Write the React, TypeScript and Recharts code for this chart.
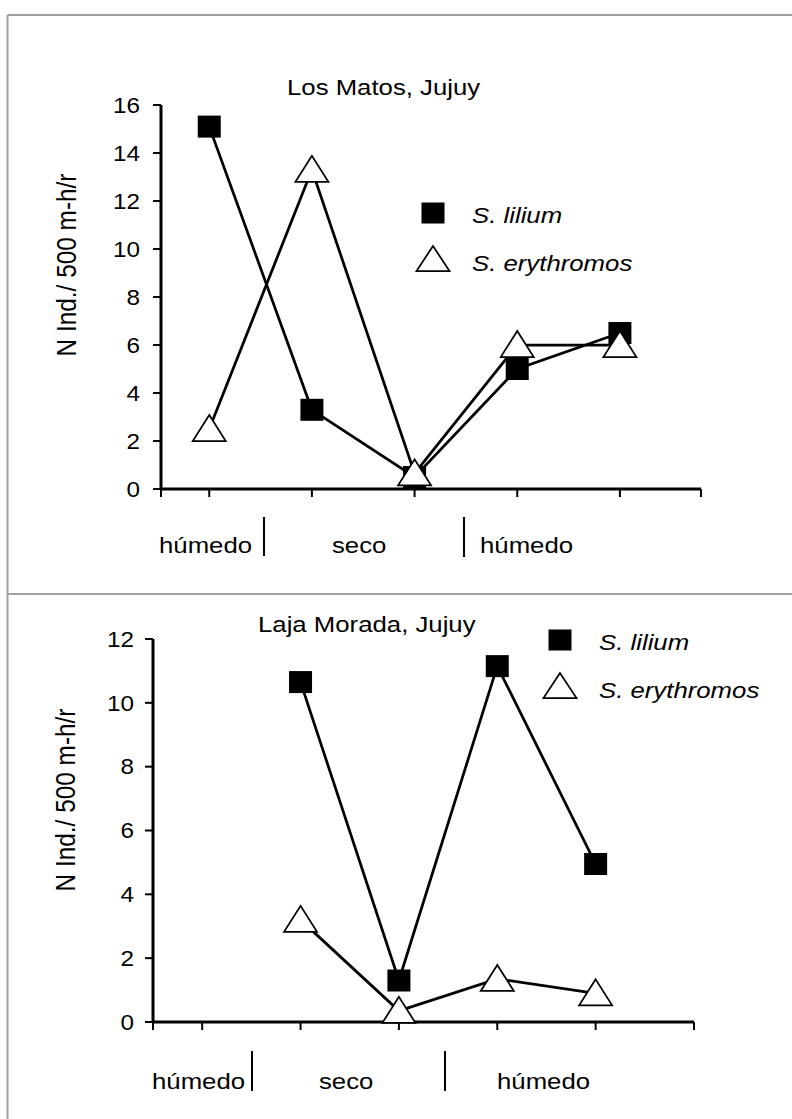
import React from 'react';
import { LineChart, Line, XAxis, YAxis } from 'recharts';

// sampling periods (x positions along the axis)
const periods = [1, 2, 3, 4, 5];

// Los Matos, Jujuy
const losMatosLilium = [15.1, 3.3, 0.5, 5.0, 6.5];
const losMatosErythromos = [2.5, 13.3, 0.65, 6.0, 6.0];
const losMatosTicks = [0, 2, 4, 6, 8, 10, 12, 14, 16];

// Laja Morada, Jujuy (first period not sampled)
const lajaLilium = [null, 10.65, 1.3, 11.15, 4.95];
const lajaErythromos = [null, 3.2, 0.35, 1.35, 0.9];
const lajaTicks = [0, 2, 4, 6, 8, 10, 12];

const seasons = ['húmedo', 'seco', 'húmedo'];
const speciesNames = ['S. lilium', 'S. erythromos'];
const yTitle = 'N Ind./ 500 m-h/r';

const FONT = '"Liberation Sans", Arial, sans-serif';
const SX = 1.12; // the source figure is stretched a little horizontally

const losMatosData = periods.map((p, i) => ({
  period: p,
  lilium: losMatosLilium[i],
  erythromos: losMatosErythromos[i],
}));

const lajaData = periods.map((p, i) => ({
  period: p,
  lilium: lajaLilium[i],
  erythromos: lajaErythromos[i],
}));

function SquareDot(props: any) {
  const { cx, cy } = props;
  if (cx == null || cy == null) return <g />;
  return <rect x={cx - 11.5} y={cy - 11} width={23} height={22} fill="#000" />;
}

function TriangleDot(props: any) {
  const { cx, cy } = props;
  if (cx == null || cy == null) return <g />;
  return (
    <polygon
      points={`${cx},${cy - 14} ${cx - 16.5},${cy + 12} ${cx + 16.5},${cy + 12}`}
      fill="#fff"
      stroke="#000"
      strokeWidth={1.75}
    />
  );
}

function YTick(props: any) {
  const { x, y, payload } = props;
  return (
    <text
      transform={`translate(${x},${y}) scale(1.13,1)`}
      textAnchor="end"
      dy="0.36em"
      fontSize={21.5}
      fontFamily={FONT}
      fill="#000"
    >
      {payload.value}
    </text>
  );
}

const NoTick = () => <g />;

function Txt({ x, y, size = 23, italic = false, children }: any) {
  return (
    <text
      transform={`translate(${x},${y}) scale(${SX},1)`}
      fontSize={size}
      fontFamily={FONT}
      fontStyle={italic ? 'italic' : 'normal'}
      fill="#000"
    >
      {children}
    </text>
  );
}

function YTitle({ x, y }: { x: number; y: number }) {
  return (
    <text
      transform={`translate(${x},${y}) scale(1.15,1) rotate(-90)`}
      textAnchor="middle"
      dy="0.35em"
      fontSize={24.4}
      fontFamily={FONT}
      fill="#000"
    >
      {yTitle}
    </text>
  );
}

function LegendBlock({ x, y }: { x: number; y: number }) {
  return (
    <g>
      <rect x={x - 11.5} y={y - 10.5} width={23} height={21} fill="#000" />
      <Txt x={x + 39} y={y + 10} italic>{speciesNames[0]}</Txt>
      <polygon
        points={`${x},${y + 33} ${x - 16.5},${y + 58} ${x + 16.5},${y + 58}`}
        fill="#fff"
        stroke="#000"
        strokeWidth={1.75}
      />
      <Txt x={x + 39} y={y + 58} italic>{speciesNames[1]}</Txt>
    </g>
  );
}

export default function App() {
  const axisLine = { stroke: '#000', strokeWidth: 3 };
  const tickLine = { stroke: '#000', strokeWidth: 2 };
  return (
    <div
      style={{
        position: 'absolute',
        left: 0,
        top: 0,
        width: 792,
        height: 1119,
        background: '#fff',
        overflow: 'hidden',
      }}
    >
      <div style={{ position: 'absolute', left: 0, top: 0 }}>
        <LineChart
          width={792}
          height={594}
          data={losMatosData}
          margin={{ top: 105, left: 101, right: 91, bottom: 75 }}
        >
          <XAxis
            dataKey="period"
            type="number"
            domain={[0.53, 5.79]}
            ticks={[0.53, 1, 2, 3, 4, 5, 5.79]}
            interval={0}
            allowDataOverflow
            height={30}
            tickSize={8}
            axisLine={axisLine}
            tickLine={tickLine}
            tick={NoTick}
          />
          <YAxis
            type="number"
            domain={[0, 16]}
            ticks={losMatosTicks}
            interval={0}
            width={60}
            tickSize={8}
            tickMargin={13}
            axisLine={axisLine}
            tickLine={tickLine}
            tick={YTick}
          />
          <Line
            dataKey="lilium"
            stroke="#000"
            strokeWidth={2.75}
            dot={(p: any) => <SquareDot key={`ls${p.index}`} {...p} />}
            isAnimationActive={false}
          />
          <Line
            dataKey="erythromos"
            stroke="#000"
            strokeWidth={2.75}
            dot={(p: any) => <TriangleDot key={`le${p.index}`} {...p} />}
            isAnimationActive={false}
          />
        </LineChart>
      </div>

      <div style={{ position: 'absolute', left: 0, top: 594 }}>
        <LineChart
          width={792}
          height={525}
          data={lajaData}
          margin={{ top: 45, left: 93, right: 98, bottom: 67 }}
        >
          <XAxis
            dataKey="period"
            type="number"
            domain={[0.5, 6]}
            ticks={[0.5, 1, 2, 3, 4, 5, 6]}
            interval={0}
            allowDataOverflow
            height={30}
            tickSize={8}
            axisLine={axisLine}
            tickLine={tickLine}
            tick={NoTick}
          />
          <YAxis
            type="number"
            domain={[0, 12]}
            ticks={lajaTicks}
            interval={0}
            width={60}
            tickSize={8}
            tickMargin={11}
            axisLine={axisLine}
            tickLine={tickLine}
            tick={YTick}
          />
          <Line
            dataKey="lilium"
            stroke="#000"
            strokeWidth={2.75}
            dot={(p: any) => <SquareDot key={`bs${p.index}`} {...p} />}
            isAnimationActive={false}
          />
          <Line
            dataKey="erythromos"
            stroke="#000"
            strokeWidth={2.75}
            dot={(p: any) => <TriangleDot key={`be${p.index}`} {...p} />}
            isAnimationActive={false}
          />
        </LineChart>
      </div>

      <svg
        width={792}
        height={1119}
        style={{ position: 'absolute', left: 0, top: 0, pointerEvents: 'none' }}
      >
        {/* panel frames */}
        <line x1={7.5} y1={15} x2={792} y2={15} stroke="#a0a0a0" strokeWidth={2} />
        <line x1={7.5} y1={15} x2={7.5} y2={1119} stroke="#a0a0a0" strokeWidth={2} />
        <line x1={7.5} y1={594} x2={792} y2={594} stroke="#a0a0a0" strokeWidth={2} />

        {/* top panel */}
        <Txt x={287} y={95}>Los Matos, Jujuy</Txt>
        <YTitle x={66} y={265} />
        <LegendBlock x={433} y={213} />
        <Txt x={159} y={553}>{seasons[0]}</Txt>
        <Txt x={332} y={553}>{seasons[1]}</Txt>
        <Txt x={480} y={553}>{seasons[2]}</Txt>
        <line x1={264} y1={517} x2={264} y2={556} stroke="#000" strokeWidth={2} />
        <line x1={464} y1={517} x2={464} y2={557} stroke="#000" strokeWidth={2} />

        {/* bottom panel */}
        <Txt x={258} y={632}>Laja Morada, Jujuy</Txt>
        <YTitle x={65} y={800} />
        <LegendBlock x={560} y={640} />
        <Txt x={152} y={1089}>{seasons[0]}</Txt>
        <Txt x={319} y={1089}>{seasons[1]}</Txt>
        <Txt x={497} y={1089}>{seasons[2]}</Txt>
        <line x1={252} y1={1051} x2={252} y2={1091} stroke="#000" strokeWidth={2} />
        <line x1={445} y1={1051} x2={445} y2={1091} stroke="#000" strokeWidth={2} />
      </svg>
    </div>
  );
}
